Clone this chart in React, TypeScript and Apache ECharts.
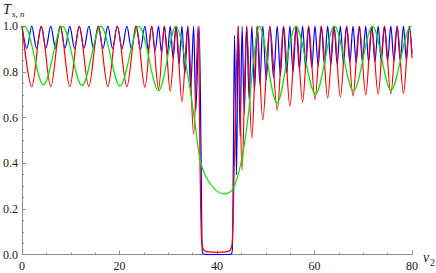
import React, { useEffect, useRef } from "react";
import * as echarts from "echarts";

const xTickValues = [0, 20, 40, 60, 80];
const yTickValues = [0.0, 0.2, 0.4, 0.6, 0.8, 1.0];

const redPoints: [number, number][] = [
  [0, 1], [2.0, 0.735], [3.95, 1], [5.9, 0.735], [7.85, 1], [9.8, 0.736], [11.75, 1],
  [13.7, 0.736], [15.65, 1], [17.6, 0.736], [19.55, 1], [21.5, 0.735], [23.4, 1],
  [25.2, 0.733], [26.6, 1], [28.0, 0.725], [29.2, 1], [30.4, 0.716], [31.6, 1],
  [32.8, 0.67], [34.0, 1], [35.2, 0.527], [36.1, 1], [36.55, 0.35], [36.85, 0.06],
  [37.3, 0.02], [38.3, 0.012], [40, 0.01], [41.7, 0.012], [42.7, 0.02], [43.15, 0.06],
  [43.5, 0.35], [44.35, 1], [45.15, 0.37], [46.1, 1], [47.15, 0.51], [48.25, 1],
  [49.4, 0.59], [50.85, 1], [52.35, 0.633], [53.65, 1], [54.95, 0.651], [56.25, 1],
  [57.55, 0.668], [58.8, 1], [60.1, 0.68], [61.4, 1], [62.7, 0.685], [64.0, 1],
  [65.3, 0.69], [66.6, 1], [67.9, 0.695], [69.2, 1], [70.5, 0.699], [71.75, 1],
  [73.05, 0.702], [74.35, 1], [75.65, 0.704], [76.95, 1], [78.25, 0.706], [79.45, 1],
  [80, 0.86],
];

const greenPoints: [number, number][] = [
  [0, 0.99], [0.5, 1], [4.4, 0.743], [8.3, 1], [12.3, 0.74], [16.2, 1], [20.1, 0.738],
  [24.0, 1], [28.0, 0.718], [31.6, 1], [33.4, 0.86], [35.4, 0.59], [36.7, 0.4],
  [38.8, 0.305], [41.5, 0.266], [43.2, 0.285], [44.9, 0.4], [46.3, 0.59], [47.5, 0.85],
  [48.7, 1], [52.3, 0.664], [56.2, 1], [60.2, 0.703], [64.1, 1], [68.0, 0.716],
  [71.9, 1], [75.7, 0.72], [79.8, 1], [80, 1],
];

const bluePoints: [number, number][] = [
  [0, 1], [1.0, 0.903], [2.0, 1], [2.98, 0.903], [3.95, 1], [4.9, 0.903], [5.9, 1],
  [6.88, 0.903], [7.85, 1], [8.82, 0.903], [9.8, 1], [10.78, 0.903], [11.75, 1],
  [12.72, 0.903], [13.7, 1], [14.68, 0.903], [15.65, 1], [16.62, 0.903], [17.6, 1],
  [18.58, 0.903], [19.55, 1], [20.52, 0.902], [21.5, 1], [22.45, 0.9], [23.4, 1],
  [24.3, 0.9], [25.2, 1], [25.9, 0.896], [26.6, 1], [27.3, 0.892], [28.0, 1],
  [28.6, 0.886], [29.2, 1], [29.8, 0.876], [30.4, 1], [31.0, 0.86], [31.6, 1],
  [32.2, 0.835], [32.8, 1], [33.4, 0.79], [34.0, 1], [34.6, 0.73], [35.2, 1],
  [35.65, 0.63], [36.3, 1], [36.75, 0.4], [36.95, 0.03], [37.2, 0.003], [40, 0],
  [42.9, 0.003], [43.15, 0.03], [43.35, 0.4], [43.6, 0.96], [44.0, 0.35], [44.35, 1],
  [44.75, 0.52], [45.15, 1], [45.6, 0.62], [46.1, 1], [46.6, 0.68], [47.15, 1],
  [47.7, 0.72], [48.25, 1], [48.8, 0.745], [49.4, 1], [50.1, 0.765], [50.85, 1],
  [51.6, 0.775], [52.35, 1], [53.0, 0.785], [53.65, 1], [54.3, 0.795], [54.95, 1],
  [55.6, 0.8], [56.25, 1], [56.9, 0.81], [57.55, 1], [58.2, 0.815], [58.8, 1],
  [59.45, 0.82], [60.1, 1], [60.75, 0.825], [61.4, 1], [62.05, 0.83], [62.7, 1],
  [63.35, 0.832], [64.0, 1], [64.65, 0.835], [65.3, 1], [65.95, 0.837], [66.6, 1],
  [67.25, 0.84], [67.9, 1], [68.55, 0.84], [69.2, 1], [69.85, 0.842], [70.5, 1],
  [71.1, 0.843], [71.75, 1], [72.4, 0.845], [73.05, 1], [73.7, 0.846], [74.35, 1],
  [75.0, 0.847], [75.65, 1], [76.3, 0.848], [76.95, 1], [77.6, 0.849], [78.25, 1],
  [78.85, 0.85], [79.45, 1], [80, 0.88],
];

const AXIS_GRAY = "#8c8c8c";
const SERIF = "Liberation Serif";

export default function App() {
  const ref = useRef<HTMLDivElement>(null);

  useEffect(() => {
    if (!ref.current) return;
    const chart = echarts.init(ref.current, null, { renderer: "svg" });
    const lineSeries = (name: string, data: [number, number][], color: string, z: number) => ({
      name,
      type: "line",
      data,
      smooth: 0.33,
      showSymbol: false,
      symbol: "none",
      z,
      lineStyle: { color, width: 1.2 },
    });
    chart.setOption({
      animation: false,
      backgroundColor: "#ffffff",
      textStyle: { fontFamily: SERIF },
      grid: { left: 20.7, right: 24, top: 26.2, bottom: 18.3, containLabel: false },
      xAxis: {
        type: "value",
        min: xTickValues[0],
        max: xTickValues[xTickValues.length - 1],
        interval: xTickValues[1] - xTickValues[0],
        axisLine: { show: true, onZero: true, lineStyle: { color: AXIS_GRAY, width: 1 } },
        axisTick: { show: true, inside: true, length: 4, lineStyle: { color: AXIS_GRAY } },
        minorTick: { show: true, splitNumber: 4, length: 2, lineStyle: { color: AXIS_GRAY } },
        splitLine: { show: false },
        axisLabel: {
          fontFamily: SERIF,
          fontSize: 12,
          color: "#1a1a1a",
          margin: 5,
          formatter: (v: number) => String(v),
        },
      },
      yAxis: {
        type: "value",
        min: yTickValues[0],
        max: yTickValues[yTickValues.length - 1],
        interval: 0.2,
        axisLine: { show: true, onZero: true, lineStyle: { color: AXIS_GRAY, width: 1 } },
        axisTick: { show: true, inside: true, length: 4, lineStyle: { color: AXIS_GRAY } },
        minorTick: { show: true, splitNumber: 4, length: 2, lineStyle: { color: AXIS_GRAY } },
        splitLine: { show: false },
        axisLabel: {
          fontFamily: SERIF,
          fontSize: 12,
          color: "#1a1a1a",
          margin: 4,
          formatter: (v: number) => v.toFixed(1),
        },
      },
      graphic: [
        {
          type: "text",
          x: 3,
          y: 2,
          style: { text: "T", font: `italic 14px ${SERIF}`, fill: "#1a1a1a" },
        },
        {
          type: "text",
          x: 12,
          y: 9,
          style: { text: "s, n", font: `italic 9px ${SERIF}`, fill: "#1a1a1a" },
        },
        {
          type: "text",
          x: 423,
          y: 250,
          style: { text: "ν", font: `italic 14px ${SERIF}`, fill: "#1a1a1a" },
        },
        {
          type: "text",
          x: 430,
          y: 257,
          style: { text: "2", font: `10px ${SERIF}`, fill: "#1a1a1a" },
        },
      ],
      series: [
        lineSeries("blue", bluePoints, "#0000ff", 2),
        lineSeries("red", redPoints, "#ff0000", 3),
        lineSeries("green", greenPoints, "#00e600", 4),
      ],
    });
    return () => chart.dispose();
  }, []);

  return (
    <div
      ref={ref}
      style={{ position: "fixed", left: 0, top: 0, width: 436, height: 273, background: "#fff" }}
    />
  );
}
